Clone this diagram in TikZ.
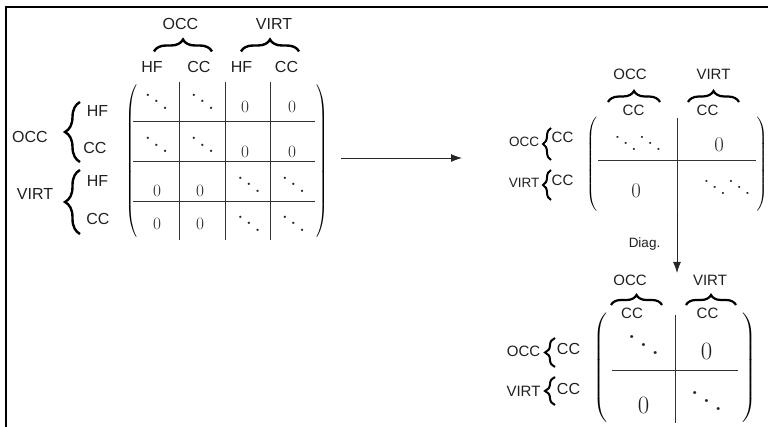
\documentclass[tikz,border=0pt]{standalone}
\usepackage{fontspec}
\setsansfont{Liberation Sans}
\usepackage{graphicx}
\usetikzlibrary{arrows.meta,decorations.pathreplacing}

% diagonal dots at 10pt with a box that hugs the ink
\newcommand\diagdots{{\fontsize{10}{10}\selectfont$\mkern1mu\raise6pt\hbox{.}\mkern2mu\raise3pt\hbox{.}\mkern2mu\hbox{.}\mkern1mu$}}
% round delimiters
\newcommand\lpar[2]{\resizebox*{#1pt}{#2pt}{\fontsize{10}{10}\selectfont\nulldelimiterspace0pt$\left(\vrule height 40pt depth 40pt width 0pt\right.$}}
\newcommand\rpar[2]{\resizebox*{#1pt}{#2pt}{\fontsize{10}{10}\selectfont\nulldelimiterspace0pt$\left.\vrule height 40pt depth 40pt width 0pt\right)$}}

\begin{document}
\begin{tikzpicture}[x=1pt,y=-1pt,
  every node/.style={inner sep=0pt,outer sep=0pt},
  lab/.style={font=\sffamily\fontsize{16}{16}\selectfont,text=black!88},
  labm/.style={font=\sffamily\fontsize{15}{15}\selectfont,text=black!88},
  labs/.style={font=\sffamily\fontsize{13.5}{13.5}\selectfont,text=black!88},
  ent/.style={font=\fontsize{17}{17}\selectfont,text=black!85},
  entm/.style={font=\fontsize{20}{20}\selectfont,text=black!85},
  entl/.style={font=\fontsize{28}{28}\selectfont,text=black!88},
  grid/.style={draw=black!80,line width=0.9pt},
  conn/.style={draw=black!85,line width=0.9pt,-{Latex[length=11pt,width=8pt]}},
  frame/.style={draw=black,line width=2.2pt},
  cbrace/.style={draw=black,line width=#1,decorate,decoration={brace,amplitude=12pt}},
  cbrace/.default=2.4pt]
\useasboundingbox (0,0) rectangle (768,427);

% frame on the top and left edges
\draw[frame] (6,428) -- (6,7) -- (769,7);

% ===== full matrix (HF/CC blocks) =====
\draw[grid] (179,82) -- (179,240) (225,82) -- (225,240) (270,82) -- (270,240);
\draw[grid] (133,121) -- (315,121) (133,161) -- (315,161) (133,201) -- (315,201);
\node (bl) at (131,161.5) {\lpar{12}{153}};
\node (br) at (322,161.5) {\rpar{12}{153}};
% entries
\node[ent] (a11) at (156.5,101.5) {\scalebox{2.2}{\diagdots}};
\node[ent] (a12) at (202.5,101.5) {\scalebox{2.2}{\diagdots}};
\node[ent] (a13) at (245,107) {$0$};
\node[ent] (a14) at (292,107) {$0$};
\node[ent] (a21) at (156.5,145) {\scalebox{2.2}{\diagdots}};
\node[ent] (a22) at (202.5,145) {\scalebox{2.2}{\diagdots}};
\node[ent] (a23) at (245,152) {$0$};
\node[ent] (a24) at (292,152) {$0$};
\node[ent] (a31) at (157,191) {$0$};
\node[ent] (a32) at (200,191) {$0$};
\node[ent] (a33) at (249,184.5) {\scalebox{2.2}{\diagdots}};
\node[ent] (a34) at (293.5,184.5) {\scalebox{2.2}{\diagdots}};
\node[ent] (a41) at (157,223.5) {$0$};
\node[ent] (a42) at (200,223.5) {$0$};
\node[ent] (a43) at (249,223.5) {\scalebox{2.2}{\diagdots}};
\node[ent] (a44) at (293.5,223.5) {\scalebox{2.2}{\diagdots}};
% column labels and their braces
\node[lab] (c1) at (152,66.5) {HF};
\node[lab] (c2) at (199,66.5) {CC};
\node[lab] (c3) at (241.5,66.5) {HF};
\node[lab] (c4) at (286.5,66.5) {CC};
\draw[cbrace] (154,51.5) -- (212,51.5);
\draw[cbrace] (241,51.5) -- (299,51.5);
\node[lab] (co) at (180.5,24) {OCC};
\node[lab] (cv) at (274,24) {VIRT};
% row labels and their braces
\node[lab] (r1) at (97.5,111) {HF};
\node[lab] (r2) at (95,147.5) {CC};
\node[lab] (r3) at (97.5,181) {HF};
\node[lab] (r4) at (98,219) {CC};
\draw[cbrace,decoration={amplitude=15pt}] (80,162) -- (80,102);
\draw[cbrace,decoration={amplitude=15pt}] (80,234) -- (80,170);
\node[lab] (ro) at (30,137) {OCC};
\node[lab] (rv) at (35,193.5) {VIRT};

% ===== reduced matrix (CC blocks) =====
\coordinate (h1) at (341,158);
\coordinate (h2) at (462,158);
\draw[conn] (h1) -- (h2);

\draw[grid] (677,118) -- (677,212);
\draw[grid] (598,160) -- (756,160);
\node (ml) at (591.5,164.5) {\lpar{11}{95}};
\node (mr) at (762,164.5) {\rpar{11}{95}};
\node[entm] (b11) at (638,143) {\scalebox{2.1}[2]{\diagdots}\scalebox{2.1}[2]{\diagdots}};
\node[entm] (b12) at (719,144.5) {$0$};
\node[entm] (b21) at (636,191) {$0$};
\node[entm] (b22) at (727,187.5) {\scalebox{2.1}[2]{\diagdots}\scalebox{2.1}[2]{\diagdots}};
\node[labm] (mco) at (630,74) {OCC};
\node[labm] (mcv) at (713.5,74) {VIRT};
\draw[cbrace=2.2pt,decoration={amplitude=11pt}] (608,102) -- (660,102);
\draw[cbrace=2.2pt,decoration={amplitude=11pt}] (688,102) -- (739,102);
\node[labm] (mc1) at (633.5,110) {CC};
\node[labm] (mc2) at (707.5,110) {CC};
\node[labs] (mro) at (524,141.5) {OCC};
\draw[cbrace=2pt,decoration={amplitude=8pt}] (551,160) -- (551,128);
\node[labm] (mr1) at (562.5,137) {CC};
\node[labs] (mrv) at (524,183) {VIRT};
\draw[cbrace=2pt,decoration={amplitude=8pt}] (551,200) -- (551,170);
\node[labm] (mr2) at (562.5,180) {CC};

% ===== diagonalised matrix =====
\coordinate (v1) at (677,211);
\coordinate (v2) at (677,273);
\draw[conn] (v1) -- (v2);
\node[labs] (dg) at (644.5,244) {Diag.};

\draw[grid] (675,315) -- (675,423);
\draw[grid] (612,370) -- (738,370);
\node (dl) at (600.5,368) {\lpar{14}{110}};
\node (dr) at (749.5,368) {\rpar{14}{110}};
\node[ent] (d11) at (643.5,345) {\scalebox{3}[2.8]{\diagdots}};
\node[entl] (d12) at (706.5,351.5) {$0$};
\node[entl] (d21) at (643.5,405.5) {$0$};
\node[ent] (d22) at (706.5,401) {\scalebox{3}[2.8]{\diagdots}};
\node[labm] (dco) at (630,280.5) {OCC};
\node[labm] (dcv) at (710,280.5) {VIRT};
\draw[cbrace=2.2pt,decoration={amplitude=10pt}] (611,305) -- (662,305);
\draw[cbrace=2.2pt,decoration={amplitude=10pt}] (686,305) -- (736,305);
\node[labm] (dc1) at (632,313) {CC};
\node[labm] (dc2) at (707.5,313) {CC};
\node[labm] (dro) at (523.5,351) {OCC};
\draw[cbrace=2pt,decoration={amplitude=10pt}] (555,367) -- (555,338);
\node[lab] (dr1) at (568.5,348.5) {CC};
\node[labm] (drv) at (523.5,391) {VIRT};
\draw[cbrace=2pt,decoration={amplitude=10pt}] (555,405) -- (555,377);
\node[lab] (dr2) at (568.5,389) {CC};
\end{tikzpicture}
\end{document}
